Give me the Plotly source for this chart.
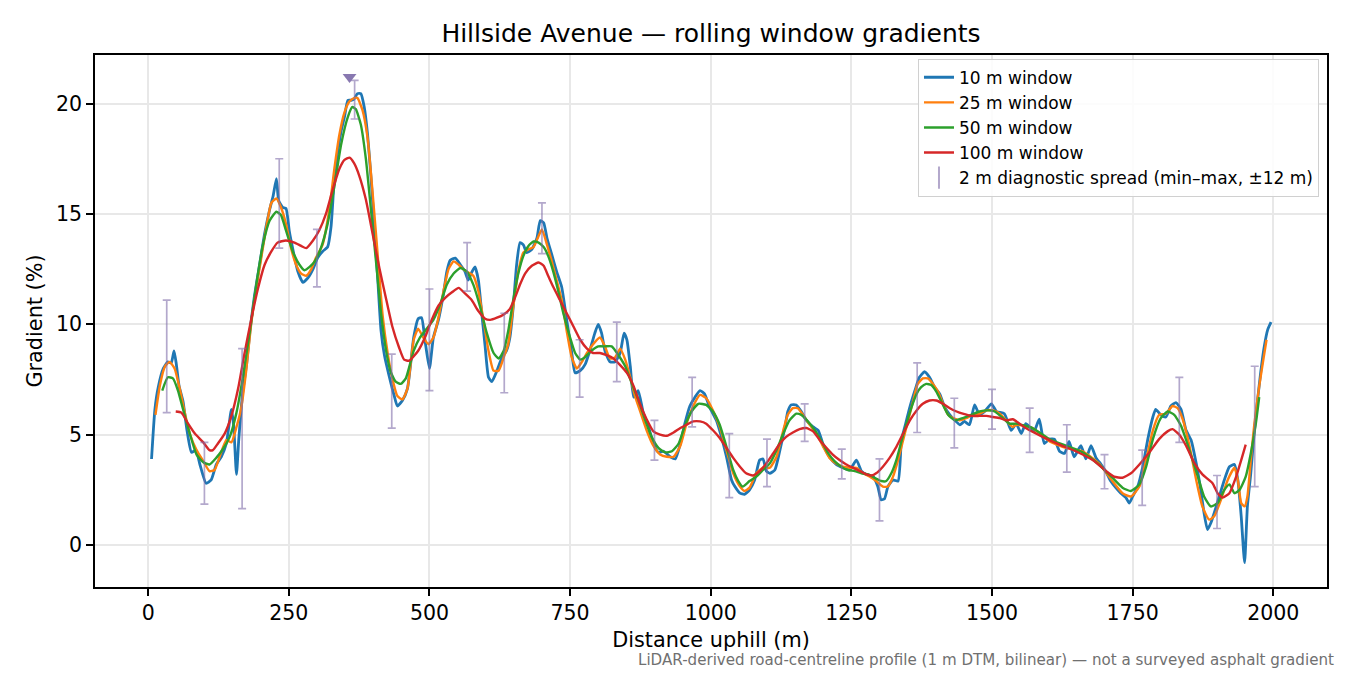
import plotly.graph_objects as go

# distances (m) and gradients (%), one pair of lists per window
w10_x = [6, 12, 18, 27, 35, 41, 46, 50, 55, 62, 69, 77, 85, 92, 103, 112, 121, 130, 139, 148,
         152, 157, 161, 168, 175, 181, 189, 198, 207, 216, 222, 228, 232, 239, 245, 251, 258, 266,
         275, 284, 293, 301, 310, 319, 325, 331, 337, 343, 349, 355, 361, 366, 372, 378, 384, 390,
         396, 402, 408, 414, 420, 428, 437, 443, 452, 461, 472, 480, 486, 492, 500, 507, 516, 525,
         531, 537, 546, 555, 563, 569, 575, 581, 587, 593, 599, 605, 611, 620, 629, 637, 643, 649,
         655, 661, 667, 673, 682, 691, 697, 703, 709, 717, 726, 735, 744, 753, 759, 768, 777, 785,
         794, 800, 806, 812, 821, 830, 839, 846, 851, 857, 863, 871, 880, 889, 898, 907, 916, 928,
         937, 946, 954, 963, 972, 981, 989, 998, 1010, 1019, 1028, 1037, 1043, 1052, 1060, 1069,
         1078, 1087, 1093, 1099, 1105, 1114, 1123, 1132, 1137, 1143, 1152, 1161, 1170, 1182, 1191,
         1200, 1211, 1223, 1235, 1247, 1259, 1268, 1277, 1289, 1297, 1303, 1309, 1315, 1324, 1333,
         1339, 1345, 1354, 1363, 1371, 1380, 1389, 1398, 1407, 1416, 1425, 1434, 1443, 1451, 1460,
         1469, 1478, 1487, 1499, 1508, 1522, 1534, 1543, 1552, 1560, 1569, 1575, 1584, 1593, 1602,
         1611, 1620, 1629, 1637, 1646, 1658, 1667, 1676, 1685, 1694, 1703, 1711, 1720, 1729, 1738,
         1744, 1750, 1759, 1768, 1777, 1786, 1791, 1800, 1809, 1818, 1827, 1836, 1845, 1854, 1863,
         1871, 1877, 1883, 1889, 1895, 1904, 1913, 1922, 1931, 1937, 1943, 1949, 1954, 1960, 1966,
         1972, 1978, 1984, 1990, 1996]
w10_y = [3.9, 6.15, 7.16, 8.0, 8.3, 8.25, 8.8, 8.2, 7.2, 6.5, 5.2, 4.2, 4.3, 3.65, 2.8, 2.95, 3.65,
         4.0, 4.6, 6.15, 5.4, 3.2, 4.75, 6.9, 8.2, 9.7, 11.3, 12.7, 14.1, 15.2, 15.8, 16.6, 15.6,
         15.3, 15.25, 14.2, 13.3, 12.4, 11.9, 12.1, 12.5, 13.0, 13.3, 13.5, 14.4, 16.6, 17.8, 18.75,
         19.4, 20.15, 20.15, 20.2, 20.45, 20.45, 19.85, 18.6, 16.7, 14.4, 12.1, 9.7, 8.6, 7.7, 6.8,
         6.3, 6.55, 7.1, 9.4, 10.25, 10.3, 9.3, 8.0, 9.4, 10.2, 11.4, 12.4, 12.9, 13.0, 12.7, 12.4,
         12.0, 12.35, 12.6, 12.0, 10.5, 9.0, 7.6, 7.4, 7.9, 8.5, 8.8, 9.4, 10.8, 12.7, 13.7, 13.6,
         13.25, 13.4, 13.9, 14.7, 14.6, 13.9, 13.2, 12.4, 11.7, 10.2, 8.7, 7.8, 7.9, 8.2, 8.8, 9.6,
         10.0, 9.6, 8.8, 8.3, 8.3, 8.7, 9.6, 9.3, 8.1, 6.7, 7.0, 6.0, 5.4, 4.6, 4.2, 4.25, 4.0, 3.9,
         4.6, 5.5, 6.3, 6.7, 7.0, 6.85, 6.25, 5.65, 4.9, 4.0, 2.95, 2.65, 2.35, 2.3, 2.5, 2.95, 3.85,
         3.9, 3.35, 3.25, 3.4, 4.3, 5.35, 6.05, 6.35, 6.35, 6.05, 5.65, 5.35, 5.2, 4.55, 4.0, 3.65,
         3.5, 3.4, 3.85, 3.35, 3.2, 3.1, 2.65, 2.05, 2.1, 2.65, 2.95, 2.9, 4.75, 5.35, 6.25, 7.0, 7.6,
         7.85, 7.6, 7.15, 6.85, 6.25, 5.9, 5.65, 5.45, 5.6, 5.45, 6.35, 5.9, 6.05, 6.4, 6.05, 5.95,
         5.2, 5.5, 5.05, 5.5, 5.3, 5.15, 5.7, 4.6, 4.8, 4.8, 4.25, 4.15, 4.7, 4.0, 4.5, 3.9, 4.5,
         3.95, 3.65, 3.3, 2.9, 2.6, 2.35, 2.15, 1.9, 2.2, 2.65, 3.55, 4.8, 5.8, 6.15, 5.9, 5.8, 6.3,
         6.45, 6.15, 5.2, 4.75, 3.7, 2.5, 1.45, 0.7, 1.0, 1.45, 2.2, 2.95, 3.55, 3.65, 2.95, 1.3,
         -0.8, 1.75, 3.25, 5.05, 6.55, 7.9, 9.0, 9.75, 10.1]

w25_x = [13, 21, 30, 38, 47, 56, 65, 74, 86, 98, 109, 118, 127, 139, 148, 157, 165, 174, 183, 192,
         201, 210, 219, 228, 236, 245, 254, 263, 272, 281, 290, 298, 310, 322, 331, 340, 349, 358,
         366, 372, 381, 390, 399, 408, 417, 426, 434, 443, 452, 461, 472, 480, 489, 498, 507, 516,
         525, 534, 543, 552, 560, 569, 578, 587, 596, 605, 614, 623, 632, 640, 649, 658, 667, 676,
         685, 694, 700, 709, 717, 726, 735, 744, 753, 762, 771, 780, 791, 803, 812, 821, 830, 839,
         848, 857, 866, 874, 886, 898, 910, 922, 934, 946, 957, 969, 981, 992, 1004, 1016, 1028,
         1040, 1052, 1060, 1069, 1081, 1093, 1105, 1117, 1129, 1137, 1146, 1155, 1164, 1176, 1188,
         1200, 1211, 1223, 1235, 1247, 1259, 1271, 1283, 1294, 1306, 1315, 1324, 1333, 1342, 1351,
         1360, 1368, 1377, 1386, 1395, 1404, 1413, 1422, 1431, 1443, 1454, 1466, 1478, 1490, 1502,
         1514, 1525, 1537, 1543, 1572, 1602, 1631, 1661, 1690, 1714, 1732, 1747, 1762, 1774, 1786,
         1797, 1809, 1821, 1830, 1839, 1851, 1863, 1874, 1886, 1895, 1907, 1919, 1931, 1937, 1943,
         1949, 1954, 1960, 1966, 1975, 1983, 1988]
w25_y = [5.9, 7.25, 8.1, 8.3, 8.0, 7.1, 6.0, 5.05, 4.3, 3.8, 3.35, 3.4, 4.0, 4.75, 4.65, 5.35, 6.15,
         7.85, 10.0, 11.6, 13.0, 14.4, 15.5, 15.7, 15.3, 14.55, 13.45, 12.7, 12.3, 12.2, 12.5, 13.0,
         13.6, 15.2, 17.05, 18.6, 19.6, 20.1, 20.25, 20.25, 19.7, 18.45, 15.95, 13.15, 10.35, 8.65,
         7.55, 6.75, 6.6, 7.1, 9.3, 9.8, 9.4, 9.1, 9.4, 10.3, 11.5, 12.5, 12.85, 12.7, 12.5, 12.35,
         12.2, 11.5, 10.2, 8.8, 7.9, 7.9, 8.5, 9.1, 10.8, 12.4, 13.25, 13.4, 13.5, 14.0, 14.3, 13.6,
         12.9, 12.0, 11.1, 9.7, 8.5, 8.0, 8.3, 8.7, 9.1, 9.4, 9.0, 8.45, 8.5, 8.9, 8.4, 7.6, 6.7,
         6.1, 5.2, 4.5, 4.1, 4.0, 4.0, 4.5, 5.5, 6.3, 6.8, 6.65, 6.1, 5.35, 4.3, 3.25, 2.65, 2.45,
         2.6, 3.25, 3.5, 3.5, 4.0, 5.2, 5.9, 6.2, 6.2, 5.9, 5.45, 5.05, 4.45, 3.95, 3.7, 3.55, 3.5,
         3.5, 3.25, 3.1, 2.9, 2.65, 2.65, 3.1, 3.85, 4.75, 5.65, 6.55, 7.3, 7.55, 7.55, 7.3, 6.95,
         6.4, 5.9, 5.75, 5.65, 5.75, 5.9, 5.95, 6.1, 6.1, 5.95, 5.65, 5.35, 5.45, 5.3, 4.7, 4.4, 4.25,
         3.7, 2.9, 2.35, 2.2, 2.65, 3.85, 5.2, 5.9, 5.95, 6.3, 6.2, 5.7, 4.5, 2.95, 1.75, 1.15, 1.3,
         2.05, 2.95, 3.5, 2.95, 1.9, 1.75, 2.2, 3.85, 5.4, 7.2, 8.5, 9.3]

w50_x = [25, 35, 44, 53, 62, 74, 86, 98, 109, 121, 133, 145, 157, 168, 180, 192, 204, 216, 228, 236,
         245, 257, 269, 278, 287, 296, 307, 319, 331, 343, 355, 363, 369, 378, 387, 396, 405, 414,
         423, 431, 440, 449, 458, 472, 483, 495, 507, 519, 531, 543, 555, 566, 578, 590, 602, 614,
         623, 632, 640, 649, 658, 667, 676, 685, 694, 703, 711, 720, 729, 738, 750, 759, 768, 776,
         788, 800, 812, 824, 836, 848, 860, 871, 883, 895, 907, 919, 931, 943, 954, 966, 978, 992,
         1004, 1016, 1028, 1040, 1049, 1057, 1069, 1081, 1093, 1105, 1117, 1129, 1140, 1152, 1161,
         1173, 1185, 1197, 1209, 1220, 1232, 1244, 1256, 1268, 1280, 1291, 1303, 1312, 1321, 1330,
         1339, 1348, 1357, 1366, 1374, 1383, 1392, 1401, 1410, 1422, 1434, 1448, 1463, 1478, 1493,
         1505, 1517, 1531, 1543, 1572, 1602, 1631, 1661, 1690, 1714, 1732, 1747, 1762, 1774, 1786,
         1800, 1812, 1824, 1836, 1851, 1866, 1877, 1889, 1901, 1913, 1922, 1931, 1940, 1951, 1960,
         1969, 1975]
w50_y = [7.0, 7.6, 7.55, 7.0, 6.15, 5.05, 4.1, 3.75, 3.65, 3.95, 4.35, 4.9, 6.0, 7.55, 9.55, 11.75,
         13.6, 14.7, 15.1, 14.95, 14.25, 13.3, 12.7, 12.45, 12.6, 12.85, 13.45, 14.55, 16.25, 18.15,
         19.4, 19.85, 19.75, 19.05, 17.5, 15.2, 12.85, 10.5, 8.8, 7.85, 7.4, 7.3, 7.55, 8.8, 9.4, 9.8,
         10.2, 10.9, 11.8, 12.3, 12.55, 12.4, 11.8, 10.8, 9.6, 8.7, 8.45, 8.8, 9.7, 11.1, 12.3, 13.1,
         13.55, 13.75, 13.7, 13.5, 13.1, 12.4, 11.5, 10.5, 9.4, 8.7, 8.4, 8.5, 8.8, 9.0, 9.0, 9.0,
         8.6, 8.1, 7.3, 6.6, 5.7, 4.9, 4.4, 4.2, 4.25, 4.6, 5.4, 6.05, 6.4, 6.35, 6.05, 5.45, 4.45,
         3.4, 2.9, 2.65, 2.9, 3.1, 3.4, 3.7, 4.3, 5.05, 5.65, 5.95, 5.9, 5.6, 5.2, 4.7, 4.15, 3.8,
         3.55, 3.4, 3.35, 3.25, 3.2, 3.05, 2.9, 2.9, 3.25, 3.85, 4.7, 5.5, 6.25, 6.85, 7.15, 7.3,
         7.25, 6.95, 6.5, 5.9, 5.65, 5.75, 5.9, 6.05, 6.1, 6.05, 5.8, 5.5, 5.5, 5.3, 4.8, 4.5, 4.2,
         3.65, 3.05, 2.6, 2.45, 2.75, 3.55, 4.8, 5.75, 6.05, 5.9, 5.4, 4.3, 3.1, 2.2, 1.75, 1.9, 2.5,
         2.75, 2.35, 2.5, 3.1, 4.15, 5.5, 6.7]

w100_x = [49, 59, 71, 83, 98, 109, 115, 124, 136, 148, 160, 171, 183, 195, 207, 219, 230, 245, 260,
          272, 281, 293, 304, 316, 328, 340, 349, 358, 366, 375, 387, 399, 411, 423, 434, 446, 455,
          464, 480, 492, 504, 516, 528, 540, 552, 563, 575, 587, 599, 608, 620, 632, 643, 652, 661,
          670, 682, 694, 703, 711, 720, 732, 744, 756, 768, 780, 791, 803, 815, 827, 839, 851, 863,
          874, 886, 898, 910, 922, 934, 946, 957, 969, 981, 992, 1004, 1016, 1028, 1040, 1052, 1063,
          1075, 1087, 1099, 1111, 1123, 1134, 1146, 1158, 1170, 1182, 1194, 1206, 1217, 1229, 1241,
          1253, 1265, 1277, 1286, 1294, 1306, 1318, 1330, 1342, 1354, 1366, 1377, 1389, 1401, 1413,
          1425, 1437, 1448, 1463, 1478, 1490, 1502, 1514, 1525, 1537, 1560, 1590, 1620, 1649, 1679,
          1703, 1717, 1732, 1747, 1762, 1780, 1797, 1812, 1821, 1833, 1845, 1860, 1874, 1892, 1901,
          1910, 1922, 1934, 1943, 1951]
w100_y = [6.05, 6.0, 5.5, 5.05, 4.65, 4.3, 4.3, 4.6, 5.05, 5.85, 7.1, 8.65, 10.2, 11.6, 12.7, 13.3,
          13.7, 13.8, 13.7, 13.55, 13.45, 13.8, 14.25, 15.0, 16.1, 17.05, 17.45, 17.55, 17.3, 16.75,
          15.65, 14.1, 12.55, 11.15, 9.9, 8.95, 8.4, 8.35, 8.8, 9.4, 10.2, 10.85, 11.2, 11.45, 11.65,
          11.4, 11.1, 10.6, 10.25, 10.2, 10.3, 10.45, 10.7, 11.2, 11.8, 12.3, 12.65, 12.8, 12.65,
          12.2, 11.7, 11.1, 10.5, 9.9, 9.3, 8.9, 8.7, 8.7, 8.6, 8.45, 8.15, 7.8, 7.2, 6.4, 5.7, 5.15,
          5.0, 4.95, 5.1, 5.3, 5.45, 5.6, 5.6, 5.5, 5.2, 4.85, 4.4, 3.95, 3.55, 3.25, 3.15, 3.35, 3.7,
          4.15, 4.6, 4.9, 5.1, 5.25, 5.3, 5.15, 4.75, 4.4, 4.1, 3.85, 3.65, 3.5, 3.35, 3.2, 3.15, 3.25,
          3.55, 3.95, 4.45, 5.05, 5.65, 6.1, 6.4, 6.55, 6.55, 6.4, 6.2, 6.05, 5.95, 5.85, 5.85, 5.85,
          5.8, 5.75, 5.65, 5.7, 5.3, 4.9, 4.55, 4.25, 3.85, 3.35, 3.1, 3.05, 3.25, 3.65, 4.2, 4.8,
          5.15, 5.25, 5.0, 4.5, 3.7, 3.2, 2.8, 2.35, 2.15, 2.35, 3.1, 3.85, 4.55]

# 2 m diagnostic spread: min and max inside +/-12 m of each check point
spread_x = [33, 100, 167, 233, 300, 367, 433, 500, 567, 633, 700, 767, 833, 900, 967, 1033, 1100,
            1167, 1233, 1300, 1367, 1433, 1500, 1567, 1633, 1700, 1767, 1833, 1900, 1967]
spread_min = [6.0, 1.85, 1.65, 13.45, 11.7, 19.3, 5.3, 7.0, 11.5, 6.9, 13.2, 6.7, 7.4, 3.85, 5.35,
              2.15, 2.65, 4.7, 3.0, 1.1, 5.1, 4.4, 5.25, 4.2, 3.3, 2.55, 1.8, 4.65, 0.75, 2.65]
spread_max = [11.1, 4.65, 8.9, 17.5, 14.3, 21.05, 8.65, 11.6, 13.7, 10.5, 15.5, 9.3, 10.1, 5.65,
              7.6, 5.05, 4.8, 6.4, 4.35, 3.9, 8.25, 6.65, 7.05, 6.2, 5.45, 4.1, 4.3, 7.6, 3.15, 8.1]

peak_x = [358]
peak_y = [21.2]

FONT = "DejaVu Sans"
SPREAD_COLOUR = "rgba(128,110,170,0.6)"

fig = go.Figure()

windows = [
    ("10 m window", w10_x, w10_y, "#1f77b4", 2.8),
    ("25 m window", w25_x, w25_y, "#ff7f0e", 2.4),
    ("50 m window", w50_x, w50_y, "#2ca02c", 2.4),
    ("100 m window", w100_x, w100_y, "#d62728", 2.4),
]
for name, xs, ys, colour, width in windows:
    fig.add_trace(go.Scatter(
        x=xs, y=ys, mode="lines", name=name, legendgroup=name,
        line=dict(color=colour, width=width, shape="spline", smoothing=0.5),
    ))

fig.add_trace(go.Scatter(
    x=spread_x, y=spread_min, mode="markers", showlegend=False,
    marker=dict(size=1, color="rgba(0,0,0,0)"),
    error_y=dict(
        type="data", symmetric=False,
        array=[hi - lo for lo, hi in zip(spread_min, spread_max)],
        arrayminus=[0] * len(spread_min),
        color=SPREAD_COLOUR, thickness=1.7, width=4,
    ),
))
# legend stand-in for the spread bars
fig.add_trace(go.Scatter(
    x=[None], y=[None], mode="markers", name="2 m diagnostic spread (min–max, ±12 m)",
    legendgroup="spread",
    marker=dict(symbol="line-ns-open", size=16, color=SPREAD_COLOUR,
                line=dict(color=SPREAD_COLOUR, width=2)),
))

fig.add_trace(go.Scatter(
    x=peak_x, y=peak_y, mode="markers", showlegend=False,
    marker=dict(symbol="triangle-down", size=12, color="#8878b0"),
))

axis_common = dict(
    showline=True, linecolor="#000", linewidth=1.6, mirror=True,
    ticks="outside", ticklen=7, tickwidth=1.6, tickcolor="#000",
    showgrid=True, gridcolor="#e8e8e8", gridwidth=1.6, zeroline=False,
    tickfont=dict(family=FONT, size=20.5, color="#000"),
)

fig.update_layout(
    width=1350, height=675,
    margin=dict(l=95, r=23, t=55, b=88),
    paper_bgcolor="white", plot_bgcolor="white",
    font=dict(family=FONT, color="#000"),
    title=dict(
        text="Hillside Avenue — rolling window gradients",
        x=0.5, xref="paper", y=1 - 33 / 675, yref="container", yanchor="middle",
        font=dict(family=FONT, size=25, color="#000"),
    ),
    xaxis=dict(
        range=[-94.5, 2095.5], tickvals=[0, 250, 500, 750, 1000, 1250, 1500, 1750, 2000],
        title=dict(text="Distance uphill (m)", standoff=8, font=dict(family=FONT, size=20.8)),
        **axis_common,
    ),
    yaxis=dict(
        range=[-1.9, 22.2], tickvals=[0, 5, 10, 15, 20],
        title=dict(text="Gradient (%)", standoff=8, font=dict(family=FONT, size=20.8)),
        **axis_common,
    ),
    legend=dict(
        x=0.9935, xanchor="right", y=0.993, yanchor="top",
        bgcolor="rgba(255,255,255,0.85)", bordercolor="#d0d0d0", borderwidth=1,
        font=dict(family=FONT, size=17, color="#000"),
        tracegroupgap=0,
    ),
    showlegend=True,
    annotations=[dict(
        text="LiDAR-derived road-centreline profile (1 m DTM, bilinear) — not a surveyed asphalt gradient",
        xref="paper", yref="paper", x=1.0073, y=-0.137, xanchor="right", yanchor="middle",
        showarrow=False, font=dict(family=FONT, size=15.1, color="#707070"),
    )],
)

fig.write_html("out.html", config={"displayModeBar": False},
               post_script="document.body.style.margin='0';")
